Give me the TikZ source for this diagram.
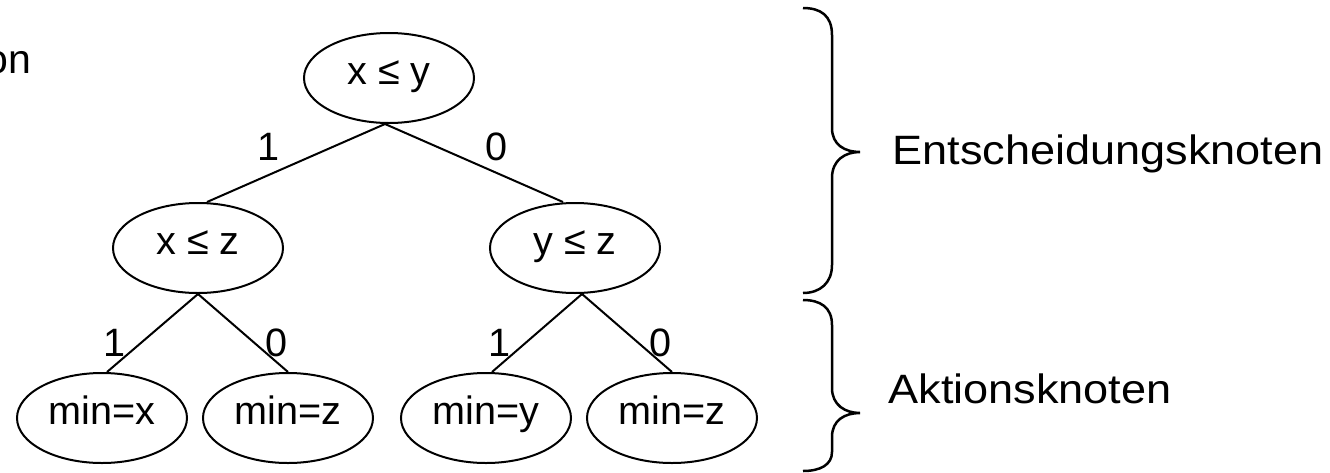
\documentclass[tikz,border=0pt]{standalone}
\usepackage{fontspec}
\setmainfont{Liberation Sans}
\newfontfamily\widesans{Liberation Sans}[FakeStretch=1.1]
\usetikzlibrary{shapes.geometric}
\tikzset{
  every node/.style={font=\fontsize{19.8}{24}\selectfont, inner sep=0pt},
  knot/.style={draw, ellipse, line width=1pt, minimum width=85pt, minimum height=45pt,
    text height=0.75em, text depth=0.1em},
  edge/.style={line width=1pt},
  brace/.style={line width=1.25pt},
  lbl/.style={anchor=center},
  side/.style={anchor=base west, font=\widesans\fontsize{20.5}{24}\selectfont}
}
\begin{document}
\begin{tikzpicture}[x=0.5pt,y=-0.5pt]
\useasboundingbox (0,0) rectangle (1330,472);
% nodes
\node[knot] (top) at (389,78) {x ≤ y};
\node[knot] (l) at (198,248) {x ≤ z};
\node[knot] (r) at (575,248) {y ≤ z};
\node[knot] (ll) at (102,418) {min=x};
\node[knot] (lr) at (288,418) {min=z};
\node[knot] (rl) at (486,418) {min=y};
\node[knot] (rr) at (672,418) {min=z};
% edges
\draw[edge] ([xshift=-2pt]top.south) -- ([xshift=4.5pt]l.north);
\draw[edge] ([xshift=-2pt]top.south) -- ([xshift=-6pt]r.north);
\draw[edge] (l.south) -- ([xshift=2.5pt]ll.north);
\draw[edge] (l.south) -- (lr.north);
\draw[edge] ([xshift=3.5pt]r.south) -- ([xshift=3pt]rl.north);
\draw[edge] ([xshift=3.5pt]r.south) -- (rr.north);
% edge labels
\node[lbl] (e1) at (269,147) {1};
\node[lbl] (e2) at (497,147) {0};
\node[lbl] (e3) at (115,343) {1};
\node[lbl] (e4) at (277,343) {0};
\node[lbl] (e5) at (500,343) {1};
\node[lbl] (e6) at (661,343) {0};
% cut-off text
\node[anchor=base east, font=\fontsize{20.5}{24}\selectfont] (cut) at (32,73) {on};
% braces
\draw[brace] (803,8) .. controls (820,8) and (832,15) .. (832,35) -- (832,128)
  .. controls (832,145) and (845,152) .. (860,152)
  .. controls (845,152) and (832,160) .. (832,178) -- (832,265)
  .. controls (832,283) and (820,293) .. (803,293);
\draw[brace] (803,300) .. controls (820,300) and (832,307) .. (832,325) -- (832,388)
  .. controls (832,405) and (845,413) .. (860,413)
  .. controls (845,413) and (832,420) .. (832,437) -- (832,452)
  .. controls (832,465) and (820,471) .. (803,471);
% brace labels
\node[side] (ent) at (892,164) {Entscheidungsknoten};
\node[side] (akt) at (888,403) {Aktionsknoten};
\end{tikzpicture}
\end{document}
